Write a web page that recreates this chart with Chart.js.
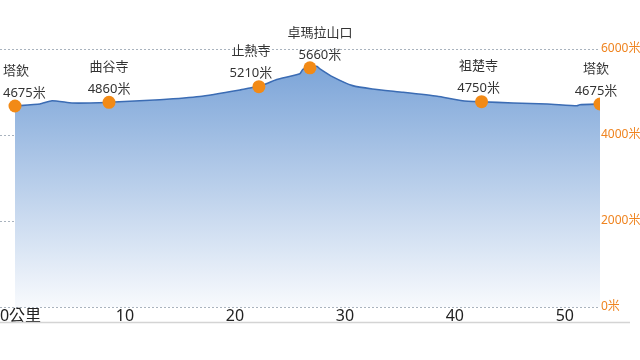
<!DOCTYPE html>
<html>
<head>
<meta charset="utf-8">
<script src="https://cdn.jsdelivr.net/npm/chart.js@4"></script>
<style>
html,body{margin:0;padding:0;background:#fff;}
canvas{display:block;}
</style>
</head>
<body>
<canvas id="c" width="640" height="360"></canvas>
<script>
// Elevation profile (km, metres)
const profileKm   = [0, 2.27, 3.36, 5.18, 6.82, 8.55, 13.18, 16.8, 20.45, 21.55, 22.18, 23.8, 25.9, 26.18, 26.82, 27.45, 27.73, 28.9, 30.7, 32.5, 35.3, 38.4, 40.7, 42.43, 45.3, 48.4, 51.1, 51.36, 53.2];
const profileElev = [4675, 4721, 4798, 4744, 4744, 4760, 4821, 4896, 5048, 5106, 5125, 5289, 5422, 5527, 5562, 5597, 5539, 5352, 5148, 5071, 4994, 4901, 4798, 4774, 4744, 4721, 4681, 4704, 4721];

// Named stops
const stopNames  = ['塔欽', '曲谷寺', '止熱寺', '卓瑪拉山口', '祖楚寺', '塔欽'];
const stopKm     = [0, 8.55, 22.18, 26.82, 42.43, 53.2];
const stopElev   = [4675, 4760, 5125, 5562, 4774, 4721];
const stopLabels = ['4675米', '4860米', '5210米', '5660米', '4750米', '4675米'];

// Axis ticks
const xStartTick = [0];
const xTicks = [10, 20, 30, 40, 50];
const yTicks = [0, 2000, 4000, 6000];

const CJK = '"Noto Sans", "Noto Sans CJK TC", sans-serif';
const labelShift = [0, 0, -8, 10, -3, -4];
const X_MIN = -1.364, X_MAX = 53.2;

const stopLabelPlugin = {
  id: 'stopLabels',
  afterLayout(chart) {
    // put the 10..50 axis on the same row as the "0公里" axis
    const a = chart.scales.x0, b = chart.scales.x;
    b.top = a.top; b.bottom = a.bottom;
  },
  afterDatasetsDraw(chart) {
    const ctx = chart.ctx;
    const meta = chart.getDatasetMeta(0);
    ctx.save();
    ctx.fillStyle = '#333';
    ctx.textAlign = 'left';
    ctx.textBaseline = 'middle';
    ctx.font = '13px ' + CJK;
    meta.data.forEach((pt, i) => {
      const cx = pt.x + labelShift[i];
      [[stopLabels[i], pt.y - 13], [stopNames[i], pt.y - 35]].forEach(([t, y]) => {
        const w = ctx.measureText(t).width;
        let x = cx - w / 2;
        x = Math.max(3, Math.min(x, 638 - w));
        ctx.fillText(t, x, y);
      });
    });
    ctx.restore();
  },
  afterDraw(chart) {
    const ctx = chart.ctx;
    const y = Math.round(chart.chartArea.bottom + 15) + 0.5;
    ctx.save();
    ctx.strokeStyle = '#d4d4d4';
    ctx.lineWidth = 1.5;
    ctx.beginPath();
    ctx.moveTo(0, y);
    ctx.lineTo(630, y);
    ctx.stroke();
    ctx.restore();
  }
};

const xTickStyle = {
  padding: 0,
  color: '#222',
  font: { size: 16, family: CJK },
  maxRotation: 0,
  autoSkip: false
};

new Chart(document.getElementById('c'), {
  type: 'line',
  data: {
    datasets: [
      {
        data: stopKm.map((k, i) => ({x: k, y: stopElev[i]})),
        showLine: false,
        pointRadius: 6.5,
        pointBackgroundColor: '#f28a16',
        pointBorderWidth: 0,
        pointBorderColor: '#f28a16'
      },
      {
        data: profileKm.map((k, i) => ({x: k, y: profileElev[i]})),
        borderColor: '#3b6cb4',
        borderWidth: 1.6,
        pointRadius: 0,
        tension: 0.15,
        fill: 'origin',
        backgroundColor(ctx) {
          const c = ctx.chart;
          const a = c.chartArea;
          if (!a) return '#9ab8e0';
          const g = c.ctx.createLinearGradient(0, a.top + 16, 0, a.bottom);
          g.addColorStop(0, '#7ba4d8');
          g.addColorStop(1, '#f8fafd');
          return g;
        }
      }
    ]
  },
  options: {
    responsive: false,
    animation: false,
    layout: { autoPadding: false, padding: { top: 49, bottom: 13, left: 0, right: 0 } },
    plugins: { legend: { display: false }, tooltip: { enabled: false } },
    scales: {
      x0: {
        type: 'linear',
        position: 'bottom',
        weight: -1,
        min: X_MIN,
        max: X_MAX,
        afterBuildTicks(s) { s.ticks = xStartTick.map(v => ({value: v})); },
        afterFit(s) { s.height = 20; s.paddingLeft = 0; s.paddingRight = 0; },
        grid: { display: false, drawTicks: false },
        border: { display: false },
        ticks: Object.assign({}, xTickStyle, { labelOffset: 5.5, callback: v => v + '公里' })
      },
      x: {
        type: 'linear',
        position: 'bottom',
        weight: 1,
        min: X_MIN,
        max: X_MAX,
        afterBuildTicks(s) { s.ticks = xTicks.map(v => ({value: v})); },
        afterFit(s) { s.height = 20; },
        grid: { display: false, drawTicks: false },
        border: { display: false },
        ticks: Object.assign({}, xTickStyle, { callback: v => String(v) })
      },
      y: {
        position: 'right',
        min: 0,
        max: 6000,
        afterBuildTicks(s) { s.ticks = yTicks.map(v => ({value: v})); },
        afterFit(s) { s.width = 40; },
        grid: { color: '#a9b3be', lineWidth: 1, drawTicks: false },
        border: { display: false, dash: [2, 2] },
        ticks: {
          padding: 1,
          color: '#ef8420',
          font: { size: 12, family: CJK },
          callback: v => v + '米'
        }
      }
    }
  },
  plugins: [stopLabelPlugin]
});
</script>
</body>
</html>
